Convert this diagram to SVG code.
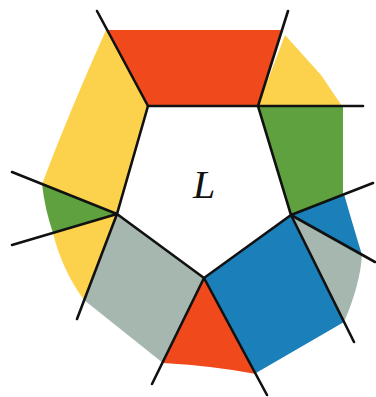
<svg xmlns="http://www.w3.org/2000/svg" width="376" height="397" viewBox="0 0 376 397">
<style>
.red{fill:#F04A1C}
.yel{fill:#FCD24C}
.grn{fill:#5FA03F}
.blu{fill:#1B7FBA}
.gry{fill:#A5B7AF}
.ln{stroke:#111;stroke-width:2.6;stroke-linecap:round;fill:none}
.lbl{font-family:"Liberation Serif","Times New Roman",serif;font-style:italic;font-size:40px;fill:#111}
</style>
<rect width="376" height="397" fill="#fff"/>
<g id="regions">
<polygon id="red-top" class="red" points="106,30 281,30 258,106 148,106"/>
<polygon id="yellow-top-right" class="yel" points="285,35 321,75 342,106 258,106"/>
<polygon id="green-right" class="grn" points="258,106 343,106 343,194 291,215"/>
<path id="blue-right-small" class="blu" d="M291,215 L344,194 Q352,222 362,255 Z"/>
<path id="gray-right" class="gry" d="M291,215 L362,255 Q360,285 344,322 Z"/>
<polygon id="blue-big" class="blu" points="291,215 344,322 256,373 204,278"/>
<path id="red-bottom" class="red" d="M204,278 L163,363 Q215,366 256,374 Z"/>
<polygon id="gray-left" class="gry" points="117,214 204,278 163,363 84,300"/>
<path id="yellow-left-lower" class="yel" d="M117,214 L53,233 Q62,270 84,300 Z"/>
<path id="green-left" class="grn" d="M117,214 L42,184 Q45,210 53,233 Z"/>
<path id="yellow-upper-left" class="yel" d="M106,30 L148,106 L117,214 L42,184 Q70,110 106,30 Z"/>
</g>
<g id="connectors" class="ln">
<polygon points="148,106 258,106 291,215 204,278 117,214"/>
<line x1="97" y1="11" x2="148" y2="106"/>
<line x1="288" y1="11" x2="258" y2="106"/>
<line x1="258" y1="106" x2="363" y2="106"/>
<line x1="291" y1="215" x2="373" y2="183"/>
<line x1="291" y1="215" x2="375" y2="262"/>
<line x1="291" y1="215" x2="354" y2="342"/>
<line x1="204" y1="278" x2="267" y2="395"/>
<line x1="204" y1="278" x2="152" y2="384"/>
<line x1="117" y1="214" x2="77" y2="319"/>
<line x1="117" y1="214" x2="12" y2="245"/>
<line x1="117" y1="214" x2="12" y2="172"/>
</g>
<g id="label">
<text class="lbl" x="204" y="198" text-anchor="middle">L</text>
</g>
</svg>
